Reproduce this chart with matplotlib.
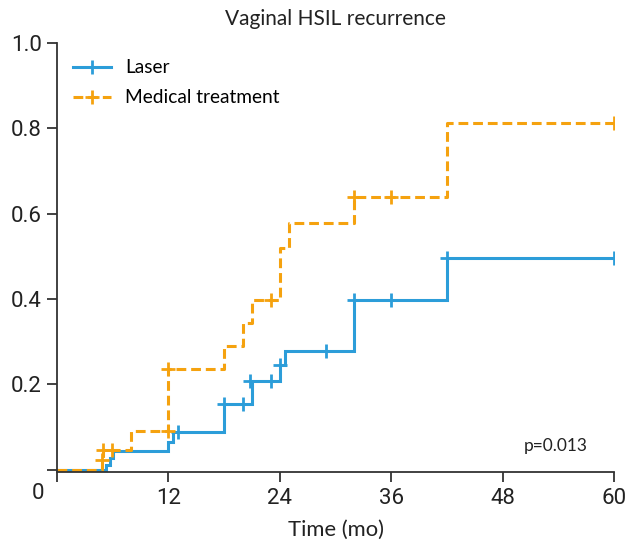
import matplotlib
matplotlib.use("Agg")
import matplotlib.pyplot as plt
from matplotlib import font_manager

# ---- data (cumulative recurrence) ----
laser_times = [0, 5.3, 5.7, 6.0, 12.0, 12.5, 18.0, 21.0, 24.0, 24.6, 32.0, 42.0, 60.0]
laser_vals  = [0, 0.011, 0.028, 0.044, 0.064, 0.089, 0.155, 0.208, 0.245, 0.278, 0.398, 0.496, 0.496]
laser_cens_t = [13.0, 18.0, 20.0, 20.8, 23.0, 24.0, 29.0, 32.0, 36.0, 42.0, 60.0]
laser_cens_v = [0.089, 0.155, 0.155, 0.208, 0.208, 0.245, 0.278, 0.398, 0.398, 0.496, 0.496]

med_times = [0, 4.9, 5.0, 8.0, 12.0, 18.0, 20.0, 21.0, 24.0, 25.0, 32.0, 42.0, 60.0]
med_vals  = [0, 0.022, 0.046, 0.092, 0.237, 0.289, 0.345, 0.397, 0.519, 0.578, 0.638, 0.813, 0.813]
med_cens_t = [4.9, 5.0, 5.9, 12.0, 12.0, 23.0, 32.0, 36.0, 60.0]
med_cens_v = [0.022, 0.046, 0.046, 0.092, 0.237, 0.397, 0.638, 0.638, 0.813]

xticks = [0, 12, 24, 36, 48, 60]
yticks = [0, 0.2, 0.4, 0.6, 0.8, 1.0]
ytick_labels = ["", "0.2", "0.4", "0.6", "0.8", "1.0"]

title = "Vaginal HSIL recurrence"
xlabel = "Time (mo)"
pval = "p=0.013"

BLUE = "#2c9dd9"
ORANGE = "#f5a20f"

avail = {f.name for f in font_manager.fontManager.ttflist}
tick_font = "Liberation Sans Narrow" if "Liberation Sans Narrow" in avail else "Roboto"
txt_font = "Lato"

fig = plt.figure(figsize=(6.26, 5.45), dpi=100)
ax = fig.add_axes([57/626, 1-471.5/545, (614-57)/626, (471.5-43)/545])

lw = 2.2
ax.step(laser_times, laser_vals, where="post", color=BLUE, lw=lw, solid_joinstyle="miter")
ax.plot(laser_cens_t, laser_cens_v, linestyle="none", marker="+", ms=10, mew=2, color=BLUE)
ax.step(med_times, med_vals, where="post", color=ORANGE, lw=lw, dashes=(3.2, 1.6))
ax.plot(med_cens_t, med_cens_v, linestyle="none", marker="+", ms=10, mew=2, color=ORANGE)

# legend proxies
ax.plot([], [], color=BLUE, lw=lw, marker="+", ms=10, mew=2, label="Laser")
ax.plot([], [], color=ORANGE, lw=lw, dashes=(3.2, 1.6), marker="+", ms=10, mew=2, label="Medical treatment")
h, l = ax.get_legend_handles_labels()
leg = ax.legend(h, l, loc="upper left", bbox_to_anchor=(0.0, 1.0), frameon=False,
                handlelength=1.95, handletextpad=0.75, labelspacing=0.68,
                prop={"family": txt_font, "size": 13.8}, borderaxespad=0.45)

ax.set_xlim(0, 60)
ax.set_ylim(-0.004, 1.0)
ax.set_xticks(xticks)
ax.set_xticklabels([""] + [str(t) for t in xticks[1:]])
ax.set_yticks(yticks)
ax.set_yticklabels(ytick_labels)
for lab in ax.get_xticklabels() + ax.get_yticklabels():
    lab.set_family(tick_font)
    lab.set_fontsize(16)
    lab.set_color("#222222")
ax.tick_params(direction="out", length=7, width=1.3, color="#333333", pad=5)
ax.tick_params(axis="y", pad=4)
for s in ["top", "right"]:
    ax.spines[s].set_visible(False)
for s in ["left", "bottom"]:
    ax.spines[s].set_color("#333333")
    ax.spines[s].set_linewidth(1.3)

ax.text(-0.035, -0.028, "0", transform=ax.transAxes, ha="center", va="top",
        fontsize=16, family=tick_font, color="#222222")

ax.set_title(title, fontsize=15, family=txt_font, color="#222222", pad=13)
ax.set_xlabel(xlabel, fontsize=15.8, family=txt_font, color="#222222", labelpad=8)
ax.text(57.2, 0.055, pval, ha="right", va="center", fontsize=12.5, family=txt_font, color="#222222")

fig.savefig("out.png", dpi=100)
